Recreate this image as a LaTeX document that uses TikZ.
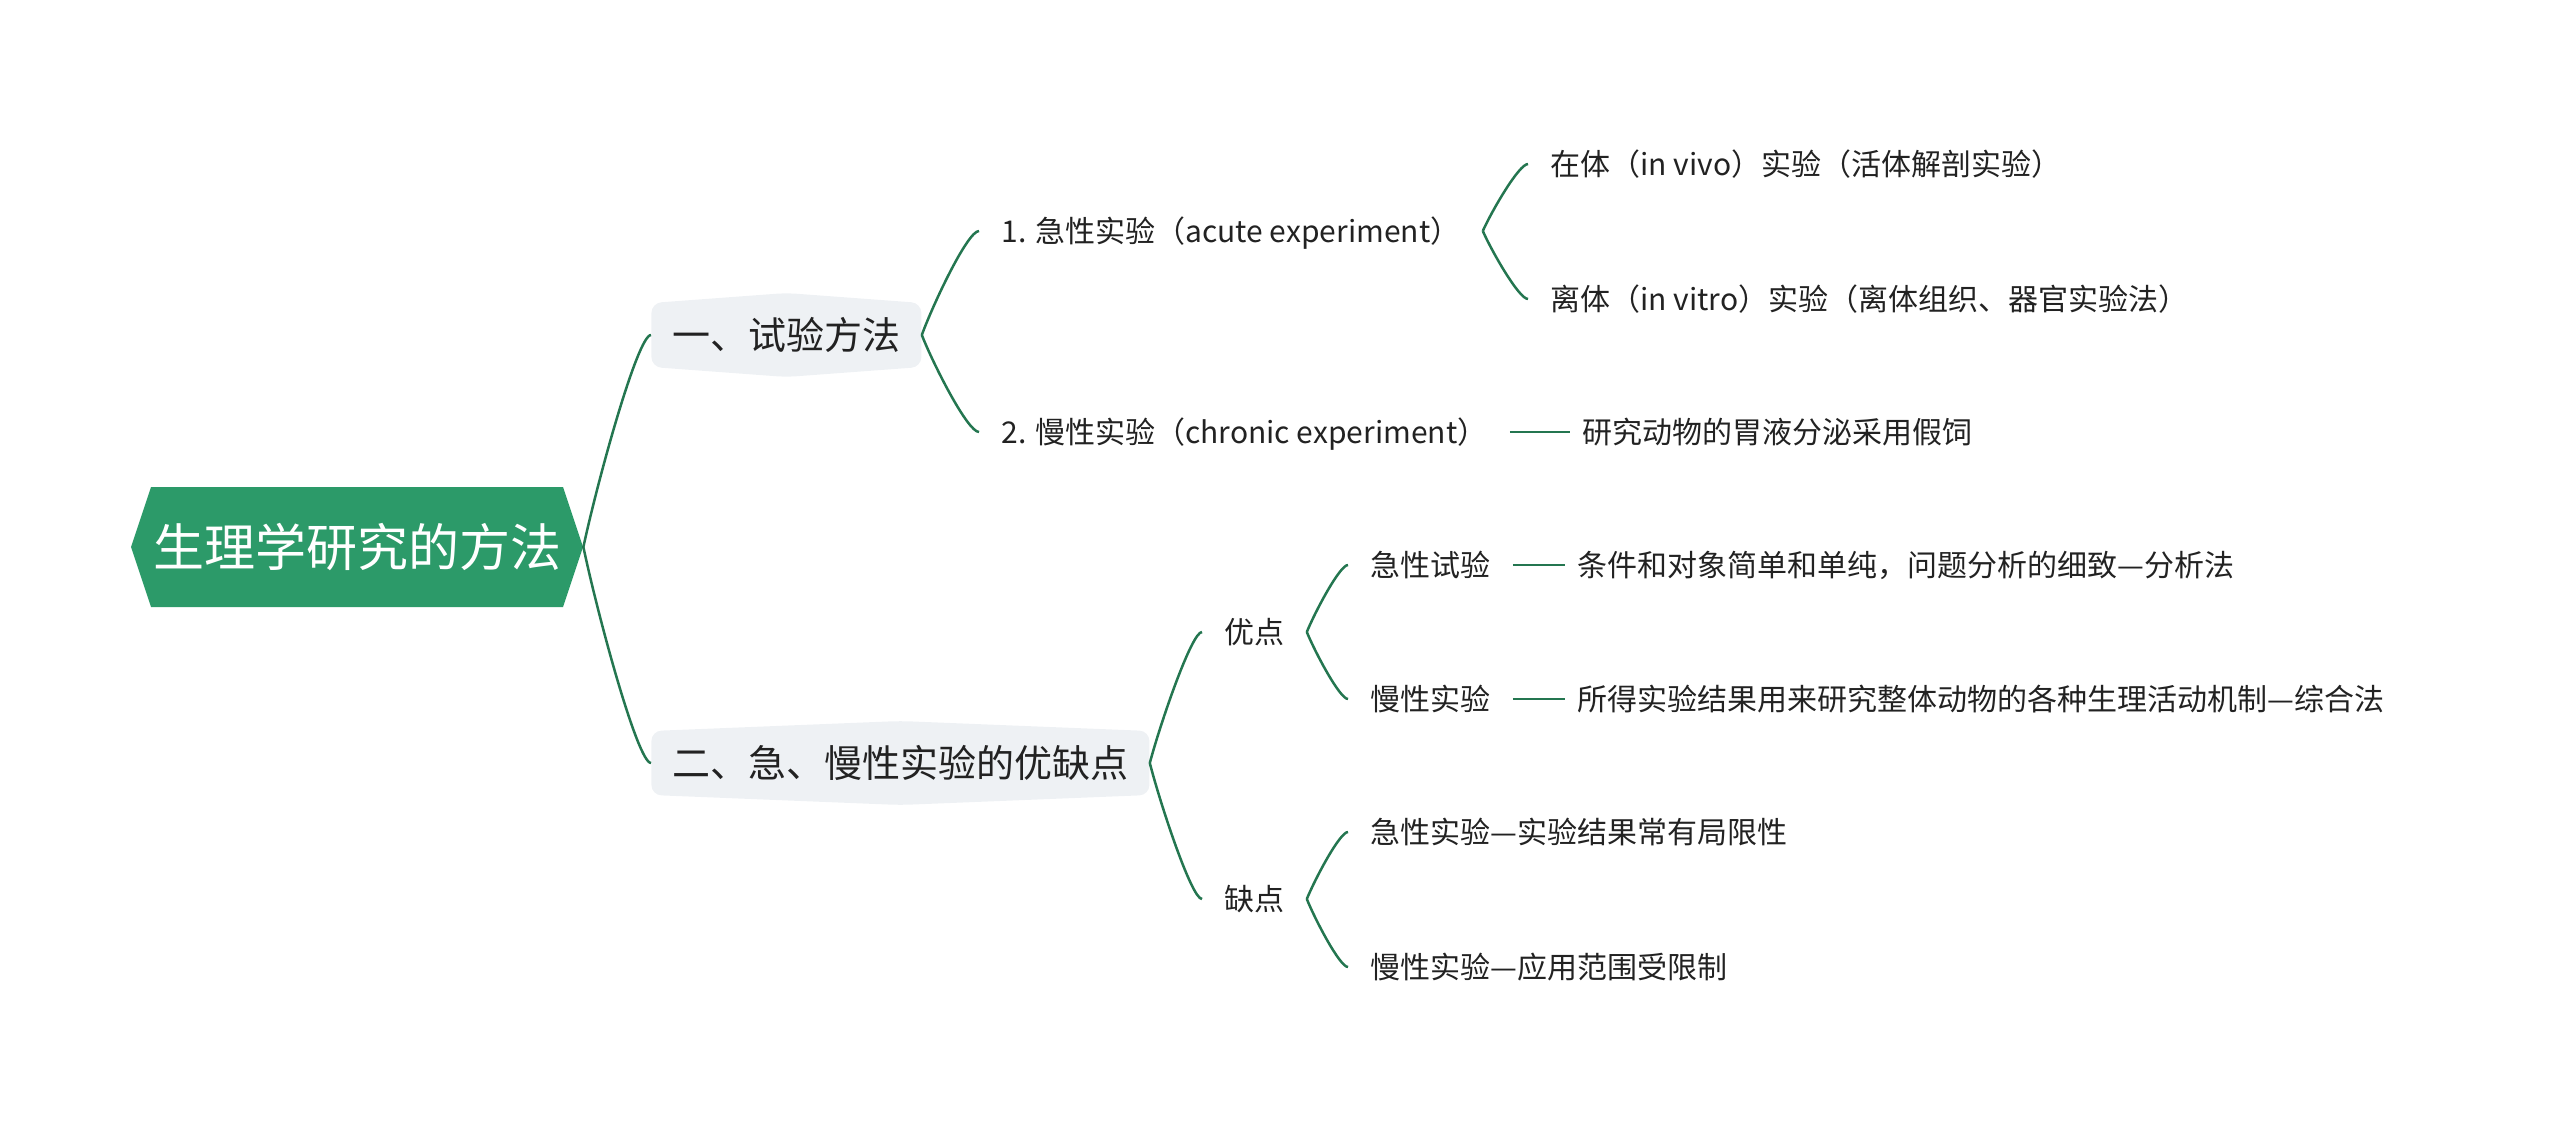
\documentclass[tikz,border=0pt]{standalone}
\usepackage{fontspec}
\setmainfont{Noto Sans CJK SC}
\usetikzlibrary{calc}
\definecolor{rootgreen}{HTML}{2C9A69}
\definecolor{linegreen}{HTML}{247650}
\definecolor{boxgray}{HTML}{EEF1F4}
\definecolor{txt}{HTML}{222222}
\newcommand\mmlink[2]{\draw[conn] let \p1=(#1), \p2=(#2) in (\p1) .. controls ({\x1+0.2*(\x2-\x1)},{\y1+0.3*(\y2-\y1)}) and ({\x1+0.8*(\x2-\x1)},{\y2}) .. (\p2);}
\begin{document}
\begin{tikzpicture}[x=0.5pt,y=-0.5pt,
  conn/.style={draw=linegreen, line width=1.25pt},
  rootnode/.style={font=\fontsize{25.5pt}{30pt}\selectfont, text=white, inner sep=0pt,
    minimum width=226pt, minimum height=60pt, text height=22.4pt, text depth=3.1pt,
    path picture={\fill[rootgreen] (path picture bounding box.west) -- ([xshift=10pt]path picture bounding box.north west) -- ([xshift=-10pt]path picture bounding box.north east) -- (path picture bounding box.east) -- ([xshift=-10pt]path picture bounding box.south east) -- ([xshift=10pt]path picture bounding box.south west) -- cycle;}},
  l1box/.style={font=\fontsize{19pt}{23pt}\selectfont, text=txt, inner xsep=10.5pt, inner ysep=0pt,
    minimum height=42pt, text height=16.8pt, text depth=2.2pt, anchor=west,
    path picture={\fill[boxgray, rounded corners=5pt] ([yshift=-5pt]path picture bounding box.north west) -- (path picture bounding box.north) -- ([yshift=-5pt]path picture bounding box.north east) -- ([yshift=5pt]path picture bounding box.south east) -- (path picture bounding box.south) -- ([yshift=5pt]path picture bounding box.south west) -- cycle;}},
  lbl/.style={font=\fontsize{15pt}{18pt}\selectfont, text=txt, inner xsep=11pt, inner ysep=0pt,
    text height=13.2pt, text depth=1.8pt, anchor=west},
  leaf/.style={lbl, inner xsep=6pt}
]
\useasboundingbox (0,0) rectangle (2560,1123);
\node[rootnode] (root) at (357,547) {生理学研究的方法};
\node[l1box] (a) at (651,335) {一、试验方法};
\node[l1box] (b) at (651,763) {二、急、慢性实验的优缺点};
\mmlink{root.east}{a.west}
\mmlink{root.east}{b.west}
% branch one
\node[lbl] (a1) at (979,231) {1. 急性实验（acute experiment）};
\node[lbl] (a2) at (979,432) {2. 慢性实验（chronic experiment）};
\mmlink{a.east}{a1.west}
\mmlink{a.east}{a2.west}
\node[lbl] (a11) at (1528,164) {在体（in vivo）实验（活体解剖实验）};
\node[lbl] (a12) at (1528,299) {离体（in vitro）实验（离体组织、器官实验法）};
\mmlink{a1.east}{a11.west}
\mmlink{a1.east}{a12.west}
\node[leaf] (a21) at (1570,432) {研究动物的胃液分泌采用假饲};
\draw[conn] (a2.east) -- (a21.west);
% branch two
\node[lbl] (b1) at (1202,632) {优点};
\node[lbl] (b2) at (1202,899) {缺点};
\mmlink{b.east}{b1.west}
\mmlink{b.east}{b2.west}
\node[lbl] (b11) at (1348,565) {急性试验};
\node[lbl] (b12) at (1348,699) {慢性实验};
\mmlink{b1.east}{b11.west}
\mmlink{b1.east}{b12.west}
\node[leaf] (b111) at (1565,565) {条件和对象简单和单纯，问题分析的细致—分析法};
\node[leaf] (b121) at (1565,699) {所得实验结果用来研究整体动物的各种生理活动机制—综合法};
\draw[conn] (b11.east) -- (b111.west);
\draw[conn] (b12.east) -- (b121.west);
\node[lbl] (b21) at (1348,832) {急性实验—实验结果常有局限性};
\node[lbl] (b22) at (1348,967) {慢性实验—应用范围受限制};
\mmlink{b2.east}{b21.west}
\mmlink{b2.east}{b22.west}
\end{tikzpicture}
\end{document}
